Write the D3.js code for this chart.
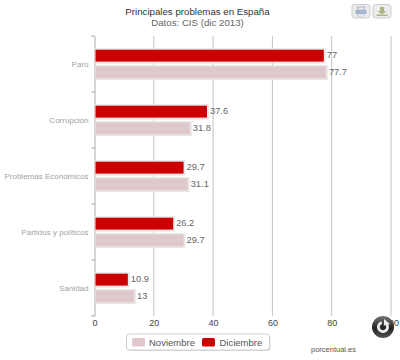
<!DOCTYPE html>
<html>
<head>
<meta charset="utf-8">
<script src="https://cdnjs.cloudflare.com/ajax/libs/d3/7.8.5/d3.min.js"></script>
<style>
  html, body { margin: 0; padding: 0; background: #fff; }
  svg { display: block; font-family: "Liberation Sans", Arial, sans-serif; }
</style>
</head>
<body>
<div id="chart"></div>
<script>
const categories = ["Paro", "Corrupción", "Problemas Económicos", "Partidos y políticos", "Sanidad"];
const diciembre = [77, 37.6, 29.7, 26.2, 10.9];
const noviembre = [77.7, 31.8, 31.1, 29.7, 13];
const seriesNames = ["Diciembre", "Noviembre"];
const seriesColors = ["#cc0000", "#dfc8cb"];
const xTicks = [0, 20, 40, 60, 80, 100];

const width = 400;
const height = 360;
const margin = { top: 36, right: 9, bottom: 44, left: 94.5 };

const svg = d3.select("#chart").append("svg").attr("width", width).attr("height", height);

const x = d3.scaleLinear().domain([0, 100]).range([margin.left, width - margin.right]);
const y = d3.scaleBand().domain(categories).range([margin.top, height - margin.bottom]);
const inner = d3.scaleBand().domain(seriesNames).range([0, y.bandwidth()]).paddingInner(0.29).paddingOuter(0.82);

svg.append("text").attr("x", 197.5).attr("y", 14.5).attr("text-anchor", "middle")
  .attr("font-size", 9.7).attr("fill", "#2b3544").text("Principales problemas en España");
svg.append("text").attr("x", 197.5).attr("y", 26).attr("text-anchor", "middle")
  .attr("font-size", 9.7).attr("fill", "#666").text("Datos: CIS (dic 2013)");

// grid
svg.append("g").selectAll("line").data(xTicks.slice(1)).join("line")
  .attr("x1", (d) => x(d)).attr("x2", (d) => x(d))
  .attr("y1", margin.top).attr("y2", height - margin.bottom)
  .attr("stroke", "#c4c4c4").attr("stroke-width", 1);

// axes
const xAxis = svg.append("g")
  .attr("transform", `translate(0,${height - margin.bottom})`)
  .call(d3.axisBottom(x).tickValues(xTicks).tickSize(0).tickPadding(4));
xAxis.select(".domain").remove();
xAxis.selectAll("text").attr("font-size", 9).attr("fill", "#444").attr("font-family", "inherit");

const yAxis = svg.append("g").attr("transform", `translate(${margin.left},0)`)
  .call(d3.axisLeft(y).tickSize(0).tickPadding(6));
yAxis.select(".domain").attr("stroke", "#aaa");
yAxis.selectAll("text").attr("font-size", 8).attr("fill", "#a3a3a3").attr("font-family", "inherit");

// category separators
svg.append("g").selectAll("line").data(d3.range(categories.length + 1)).join("line")
  .attr("x1", margin.left - 3).attr("x2", margin.left)
  .attr("y1", (i) => margin.top + i * y.step()).attr("y2", (i) => margin.top + i * y.step())
  .attr("stroke", "#999");

// bars
const series = [
  { name: seriesNames[0], values: diciembre, color: seriesColors[0] },
  { name: seriesNames[1], values: noviembre, color: seriesColors[1] },
];
const groups = svg.append("g").selectAll("g").data(series).join("g");
const rows = (s) => s.values.map((v, i) => ({ v, cat: categories[i], name: s.name }));

groups.selectAll("rect.shade").data(rows).join("rect").attr("class", "shade")
  .attr("x", x(0) + 0.5).attr("y", (d) => y(d.cat) + inner(d.name) - 1)
  .attr("width", (d) => x(d.v) - x(0) + 2).attr("height", inner.bandwidth() + 2.5)
  .attr("fill", "#e9e9e9").attr("stroke", "#dedede").attr("stroke-width", 0.5);
groups.selectAll("rect.bar").data(rows).join("rect").attr("class", "bar")
  .attr("x", x(0) + 1).attr("y", (d) => y(d.cat) + inner(d.name))
  .attr("width", (d) => x(d.v) - x(0)).attr("height", inner.bandwidth())
  .attr("fill", (d, i, n) => d3.select(n[i].parentNode).datum().color);
groups.selectAll("text").data(rows).join("text")
  .attr("x", (d) => x(d.v) + 4).attr("y", (d) => y(d.cat) + inner(d.name) + inner.bandwidth() / 2 + 2.5)
  .attr("font-size", 9.3).attr("fill", "#666").text((d) => d.v);

// legend
const legend = svg.append("g");
legend.append("rect").attr("x", 126.5).attr("y", 334).attr("width", 143).attr("height", 16).attr("rx", 3)
  .attr("fill", "#d8d8d8").attr("transform", "translate(1,1)");
legend.append("rect").attr("x", 126.5).attr("y", 334).attr("width", 143).attr("height", 16).attr("rx", 3)
  .attr("fill", "#fff").attr("stroke", "#d0d0d0");
const legendItems = [
  { name: "Noviembre", color: seriesColors[1], sx: 132, tx: 149 },
  { name: "Diciembre", color: seriesColors[0], sx: 202, tx: 219.5 },
];
legendItems.forEach((d) => {
  legend.append("rect").attr("x", d.sx).attr("y", 338).attr("width", 13).attr("height", 8.5).attr("rx", 1.5).attr("fill", d.color);
  legend.append("text").attr("x", d.tx).attr("y", 346).attr("font-size", 9.5).attr("fill", "#555").text(d.name);
});

svg.append("text").attr("x", 311).attr("y", 352).attr("font-size", 7.5).attr("fill", "#555").text("porcentual.es");

// export buttons
const buttons = svg.append("g");
[[352, "#a5b6cf"], [373, "#aab586"]].forEach(([bx, color], i) => {
  const b = buttons.append("g").attr("transform", `translate(${bx},4.5)`);
  b.append("rect").attr("width", 18).attr("height", 13.5).attr("rx", 2.5).attr("fill", "#ececec").attr("stroke", "#cccccc");
  if (i === 0) {
    b.append("rect").attr("x", 5.5).attr("y", 2.5).attr("width", 7).attr("height", 3).attr("fill", "none").attr("stroke", color);
    b.append("rect").attr("x", 3.5).attr("y", 5.5).attr("width", 11).attr("height", 4).attr("fill", color);
    b.append("rect").attr("x", 5.5).attr("y", 9.5).attr("width", 7).attr("height", 2).attr("fill", "#f4f4f4").attr("stroke", color).attr("stroke-width", 0.5);
  } else {
    b.append("path").attr("d", "M7 2.5h4v4h2.5l-4.5 3.5-4.5-3.5h2.5z").attr("fill", color);
    b.append("rect").attr("x", 3.5).attr("y", 10).attr("width", 11).attr("height", 1.5).attr("fill", color);
  }
});

// refresh badge over the last tick
const grad = svg.append("defs").append("linearGradient").attr("id", "badge").attr("x1", 0).attr("x2", 0).attr("y1", 0).attr("y2", 1);
grad.append("stop").attr("offset", 0).attr("stop-color", "#777");
grad.append("stop").attr("offset", 0.55).attr("stop-color", "#222");
grad.append("stop").attr("offset", 1).attr("stop-color", "#555");
const badge = svg.append("g").attr("transform", "translate(383,327)");
badge.append("circle").attr("r", 11).attr("fill", "url(#badge)");
badge.append("path").attr("d", d3.arc()({ innerRadius: 3.2, outerRadius: 6, startAngle: 1.0, endAngle: 6.0 })).attr("fill", "#eee");
badge.append("path").attr("d", "M1 -8L7 -3L1 -1.5z").attr("fill", "#eee");
</script>
</body>
</html>
